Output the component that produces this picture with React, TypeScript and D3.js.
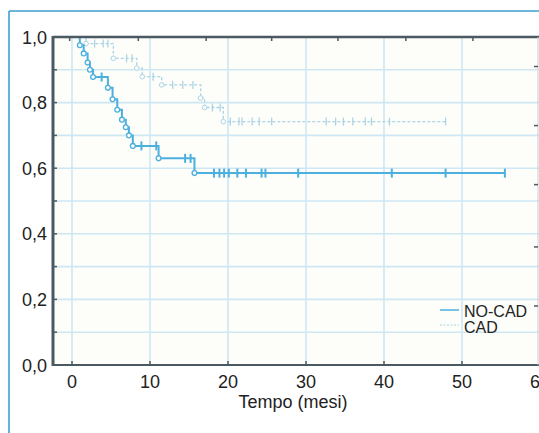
import React from "react";
import * as d3 from "d3";

// ---- data ----
const noCadTimes = [0, 1.0, 1.5, 2.0, 2.3, 2.7, 4.6, 5.2, 5.8, 6.4, 6.9, 7.3, 7.8, 11.1, 15.7];
const noCadSurv = [1.0, 0.975, 0.95, 0.922, 0.9, 0.878, 0.845, 0.81, 0.778, 0.748, 0.725, 0.7, 0.668, 0.63, 0.585];
const noCadEnd = 55.5;
const noCadCensor = [3.8, 8.9, 10.8, 14.5, 15.2, 18.2, 18.9, 19.5, 20.1, 21.2, 22.3, 24.3, 24.8, 29.0, 41.0, 47.9, 55.5];

const cadTimes = [0, 1.8, 5.3, 8.3, 9.0, 11.5, 16.5, 17.0, 19.4];
const cadSurv = [1.0, 0.98, 0.935, 0.905, 0.879, 0.854, 0.814, 0.785, 0.742];
const cadEnd = 47.9;
const cadCensor = [2.9, 4.0, 4.6, 7.0, 7.7, 10.4, 12.9, 14.2, 15.5, 18.0, 19.0, 20.3, 21.4, 21.8, 23.1, 24.0, 25.6, 32.6, 33.8, 34.8, 36.0, 37.6, 38.4, 40.7, 47.9];

const xTicks = [0, 10, 20, 30, 40, 50, 60];
const yTicks = [0, 0.2, 0.4, 0.6, 0.8, 1.0];
const yGrid = [0.1, 0.2, 0.3, 0.4, 0.5, 0.6, 0.7, 0.8, 0.9];
const yMinor = [0, 0.1, 0.2, 0.3, 0.4, 0.5, 0.6, 0.7, 0.8, 0.9, 1.0];
const topTicks = [-0.3, 8.5, 17.2, 25.6, 34.1, 42.8, 51.4];
const rightTicks = [0.18, 0.36, 0.55, 0.73, 0.91];
const seriesNames = ["NO-CAD", "CAD"];
const xTitle = "Tempo (mesi)";

const W = 539;
const H = 433;
const left = 53;
const right = 539;
const top = 37;
const bottom = 365;

const NOCAD_COLOR = "#4cb0df";
const CAD_COLOR = "#acd4e7";
const GRID = "#cde7f4";
const AXIS = "#4b5a62";
const FONT = "'Liberation Sans', Arial, Helvetica, sans-serif";

function fmt(v: number) {
  return v.toFixed(1).replace(".", ",");
}

export default function App() {
  const x = d3.scaleLinear().domain([0, 60]).range([72, 540]);
  const y = d3.scaleLinear().domain([0, 1]).range([bottom, top]);

  const mk = (times: number[], surv: number[], end: number) => {
    const pts: [number, number][] = times.map((t, i) => [t, surv[i]]);
    pts.push([end, surv[surv.length - 1]]);
    return pts;
  };
  const line = d3
    .line<[number, number]>()
    .x((d) => x(d[0]))
    .y((d) => y(d[1]))
    .curve(d3.curveStepAfter);

  const survAt = (times: number[], surv: number[], t: number) => {
    let s = surv[0];
    for (let i = 0; i < times.length; i++) if (times[i] <= t) s = surv[i];
    return s;
  };

  const noCadPts = mk(noCadTimes, noCadSurv, noCadEnd);
  const cadPts = mk(cadTimes, cadSurv, cadEnd);

  return (
    <svg
      width={W}
      height={H}
      style={{ position: "absolute", left: 0, top: 0, background: "#fff" }}
      fontFamily={FONT}
    >
      {/* outer frame */}
      <line x1={9} x2={W} y1={11} y2={11} stroke="#3aa0cf" strokeWidth={1.6} />
      <line x1={9} x2={9} y1={11} y2={H} stroke="#3aa0cf" strokeWidth={1.6} />

      {/* plot background */}
      <rect x={left} y={top} width={right - left} height={bottom - top} fill="#fdfdf9" />

      {/* grid */}
      {yGrid.map((v) => (
        <line key={"gy" + v} x1={left} x2={right} y1={y(v)} y2={y(v)} stroke={GRID} strokeWidth={1.6} />
      ))}
      {xTicks.map((v) => (
        <line key={"gx" + v} x1={x(v)} x2={x(v)} y1={top} y2={bottom} stroke={GRID} strokeWidth={1.6} />
      ))}

      {/* curves */}
      <path d={line(cadPts) || ""} fill="none" stroke={CAD_COLOR} strokeWidth={1.3} strokeDasharray="3,2" />
      {cadTimes.slice(1).map((t, i) => (
        <circle key={"cc" + i} cx={x(t)} cy={y(cadSurv[i + 1])} r={2.3} fill="#fff" stroke={CAD_COLOR} strokeWidth={1} />
      ))}
      {cadCensor.map((t, i) => (
        <line
          key={"cx" + i}
          x1={x(t)}
          x2={x(t)}
          y1={y(survAt(cadTimes, cadSurv, t)) - 4}
          y2={y(survAt(cadTimes, cadSurv, t)) + 4}
          stroke={CAD_COLOR}
          strokeWidth={1.3}
        />
      ))}

      <path d={line(noCadPts) || ""} fill="none" stroke={NOCAD_COLOR} strokeWidth={2} />
      {noCadTimes.slice(1).map((t, i) => (
        <circle key={"nc" + i} cx={x(t)} cy={y(noCadSurv[i + 1])} r={2.4} fill="#fff" stroke={NOCAD_COLOR} strokeWidth={1.3} />
      ))}
      {noCadCensor.map((t, i) => (
        <line
          key={"nx" + i}
          x1={x(t)}
          x2={x(t)}
          y1={y(survAt(noCadTimes, noCadSurv, t)) - 4.5}
          y2={y(survAt(noCadTimes, noCadSurv, t)) + 4.5}
          stroke={NOCAD_COLOR}
          strokeWidth={2}
        />
      ))}

      {/* axes */}
      <line x1={left} x2={right} y1={top} y2={top} stroke={AXIS} strokeWidth={2.5} />
      <line x1={left} x2={right} y1={bottom} y2={bottom} stroke={AXIS} strokeWidth={2} />
      <line x1={left} x2={left} y1={top - 1} y2={bottom + 1} stroke={AXIS} strokeWidth={3} />
      <line x1={538} x2={538} y1={top} y2={bottom} stroke="#c8cfd3" strokeWidth={1} />

      {yMinor.map((v) => (
        <line key={"ly" + v} x1={left} x2={left + 4} y1={y(v)} y2={y(v)} stroke={AXIS} strokeWidth={1.5} />
      ))}
      {xTicks.map((v) => (
        <line key={"bx" + v} x1={x(v)} x2={x(v)} y1={bottom - 4} y2={bottom} stroke={AXIS} strokeWidth={1.5} />
      ))}
      {topTicks.map((v) => (
        <line key={"tx" + v} x1={x(v)} x2={x(v)} y1={top} y2={top + 4} stroke={AXIS} strokeWidth={1.5} />
      ))}
      {rightTicks.map((v) => (
        <line key={"rx" + v} x1={534} x2={538} y1={y(v)} y2={y(v)} stroke={AXIS} strokeWidth={1.5} />
      ))}

      {/* tick labels */}
      {yTicks.map((v) => (
        <text key={"yl" + v} x={47} y={y(v) + 6.5} textAnchor="end" fontSize={18} fill="#222">
          {fmt(v)}
        </text>
      ))}
      {xTicks.map((v) => (
        <text key={"xl" + v} x={x(v)} y={388} textAnchor="middle" fontSize={18} fill="#222">
          {v}
        </text>
      ))}
      <text x={293} y={408} textAnchor="middle" fontSize={18} fill="#222">
        {xTitle}
      </text>

      {/* legend */}
      <line x1={440} x2={459} y1={310} y2={310} stroke={NOCAD_COLOR} strokeWidth={1.5} />
      <line x1={440} x2={459} y1={325} y2={325} stroke={CAD_COLOR} strokeWidth={1} strokeDasharray="2,1.5" />
      <text x={464} y={317} fontSize={16} fill="#222">
        {seriesNames[0]}
      </text>
      <text x={464} y={332.5} fontSize={16} fill="#222">
        {seriesNames[1]}
      </text>
    </svg>
  );
}
